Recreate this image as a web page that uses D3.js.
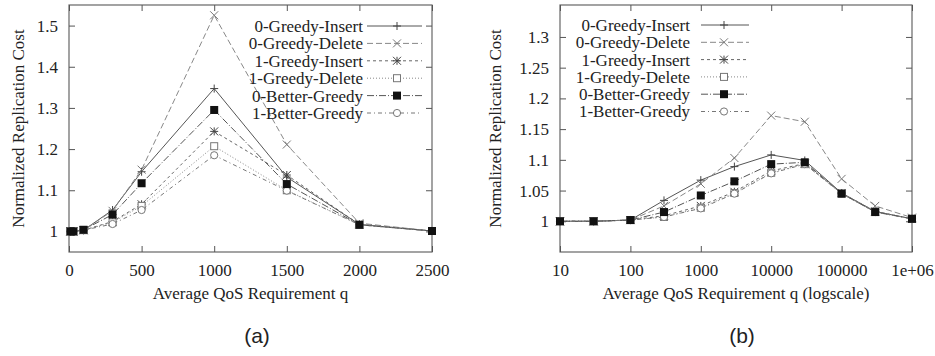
<!DOCTYPE html>
<html>
<head>
<meta charset="utf-8">
<script src="https://cdn.jsdelivr.net/npm/d3@7"></script>
<style>
  body { margin: 0; background: #fff; }
  svg { display: block; }
  text { font-family: "Liberation Serif", "Times New Roman", serif; fill: #222; }
  .panel-label { font-family: "Liberation Sans", Arial, sans-serif; }
</style>
</head>
<body>
<div id="chart"></div>
<script>
"use strict";
//series in legend order
var seriesNames = [
  "0-Greedy-Insert",
  "0-Greedy-Delete",
  "1-Greedy-Insert",
  "1-Greedy-Delete",
  "0-Better-Greedy",
  "1-Better-Greedy"
];

//panel (a): linear q
var qLinear = [10, 30, 100, 300, 500, 1000, 1500, 2000, 2500];
var costA = [
  [1.0, 1.0, 1.003, 1.052, 1.145, 1.347, 1.132, 1.017, 1.001],
  [1.0, 1.0, 1.003, 1.05, 1.15, 1.525, 1.211, 1.02, 1.001],
  [1.0, 1.0, 1.003, 1.024, 1.066, 1.243, 1.137, 1.017, 1.001],
  [1.0, 1.0, 1.003, 1.022, 1.062, 1.207, 1.1, 1.016, 1.001],
  [1.0, 1.0, 1.004, 1.041, 1.117, 1.295, 1.115, 1.016, 1.001],
  [1.0, 1.0, 1.003, 1.018, 1.052, 1.185, 1.099, 1.016, 1.001]
];
var xTicksA = [0, 500, 1000, 1500, 2000, 2500];
var yTicksA = [1, 1.1, 1.2, 1.3, 1.4, 1.5];

//panel (b): log q
var qLog = [10, 30, 100, 300, 1000, 3000, 10000, 30000, 100000, 300000, 1000000];
var costB = [
  [1.0, 1.0, 1.002, 1.034, 1.067, 1.089, 1.108, 1.099, 1.046, 1.016, 1.004],
  [1.0, 1.0, 1.002, 1.025, 1.061, 1.103, 1.172, 1.162, 1.069, 1.025, 1.006],
  [1.0, 1.0, 1.002, 1.009, 1.025, 1.048, 1.082, 1.094, 1.046, 1.016, 1.004],
  [1.0, 1.0, 1.002, 1.007, 1.022, 1.046, 1.079, 1.093, 1.045, 1.016, 1.004],
  [1.0, 1.0, 1.002, 1.015, 1.042, 1.065, 1.093, 1.096, 1.045, 1.015, 1.004],
  [1.0, 1.0, 1.002, 1.007, 1.021, 1.045, 1.078, 1.093, 1.045, 1.015, 1.004]
];
var xTicksB = [10, 100, 1000, 10000, 100000, 1000000];
var yTicksB = [1, 1.05, 1.1, 1.15, 1.2, 1.25, 1.3];

//gnuplot-like line styles
var dashes = ["none", "6,3", "3,3", "1,2", "7,2,1,2", "4,3,1,3"];
var strokes = ["#555", "#888", "#666", "#888", "#555", "#777"];
var symbols = ["plus", "cross", "star", "square", "fsquare", "circle"];
//filled squares end up on top in the original
var symbolOrder = [0, 1, 2, 3, 5, 4];

var w = 935,
  h = 356,
  fs = 17;

var svg = d3
  .select("#chart")
  .append("svg")
  .attr("width", w)
  .attr("height", h);

drawPanel({
  left: 69, right: 432, top: 5, bottom: 252,
  x: d3.scaleLinear().domain([0, 2500]),
  y: d3.scaleLinear().domain([0.95, 1.55]),
  xs: qLinear, data: costA,
  xTicks: xTicksA, yTicks: yTicksA,
  xFormat: function(d) { return String(d); },
  yFormat: function(d) { return String(+d.toFixed(2)); },
  xTitle: "Average QoS Requirement q",
  yTitleX: 18,
  legendX: 363, legendY: 26, legendStep: 17.4, sampleFrom: 4,
  label: "(a)", labelX: 257
});

drawPanel({
  left: 560, right: 912, top: 5, bottom: 252,
  x: d3.scaleLog().domain([10, 1000000]),
  y: d3.scaleLinear().domain([0.95, 1.352]),
  xs: qLog, data: costB,
  xTicks: xTicksB, yTicks: yTicksB,
  xFormat: function(d) { return d >= 1000000 ? "1e+06" : String(d); },
  yFormat: function(d) { return String(+d.toFixed(2)); },
  xTitle: "Average QoS Requirement q (logscale)",
  yTitleX: 495,
  legendX: 690, legendY: 25, legendStep: 17.3, sampleFrom: 11,
  label: "(b)", labelX: 742
});

function drawPanel(p) {
  var x = p.x.range([p.left, p.right]),
    y = p.y.range([p.bottom, p.top]);
  var g = svg.append("g");

  //frame
  g.append("rect")
    .attr("x", p.left)
    .attr("y", p.top)
    .attr("width", p.right - p.left)
    .attr("height", p.bottom - p.top)
    .attr("fill", "none")
    .attr("stroke", "#666")
    .attr("stroke-width", 1.2);

  //ticks point inward, mirrored on all four sides
  g.append("g")
    .attr("transform", "translate(0," + p.bottom + ")")
    .call(d3.axisBottom(x).tickValues(p.xTicks).tickFormat(p.xFormat)
      .tickSize(-6).tickPadding(12));
  g.append("g")
    .attr("transform", "translate(0," + p.top + ")")
    .call(d3.axisTop(x).tickValues(p.xTicks).tickFormat("").tickSize(-6));
  g.append("g")
    .attr("transform", "translate(" + p.left + ",0)")
    .call(d3.axisLeft(y).tickValues(p.yTicks).tickFormat(p.yFormat)
      .tickSize(-6).tickPadding(11));
  g.append("g")
    .attr("transform", "translate(" + p.right + ",0)")
    .call(d3.axisRight(y).tickValues(p.yTicks).tickFormat("").tickSize(-6));

  g.selectAll(".domain").remove();
  g.selectAll(".tick line").attr("stroke", "#555");
  g.selectAll(".tick text")
    .attr("font-family", "Liberation Serif, Times New Roman, serif")
    .attr("font-size", fs)
    .attr("fill", "#222");

  //axis titles
  g.append("text")
    .attr("x", (p.left + p.right) / 2)
    .attr("y", 299)
    .attr("text-anchor", "middle")
    .attr("font-size", fs)
    .text(p.xTitle);

  g.append("text")
    .attr("transform", "translate(" + (p.yTitleX + 6) + "," + (p.top + p.bottom) / 2 + ")rotate(-90)")
    .attr("text-anchor", "middle")
    .attr("font-size", fs)
    .text("Normalized Replication Cost");

  g.append("text")
    .attr("class", "panel-label")
    .attr("x", p.labelX)
    .attr("y", 343)
    .attr("text-anchor", "middle")
    .attr("font-size", 21)
    .text(p.label);

  //series lines and points
  var line = d3.line()
    .x(function(d, i) { return x(p.xs[i]); })
    .y(function(d) { return y(d); });

  p.data.forEach(function(vals, s) {
    g.append("path")
      .datum(vals)
      .attr("d", line)
      .attr("fill", "none")
      .attr("stroke", strokes[s])
      .attr("stroke-width", 1)
      .attr("stroke-dasharray", dashes[s]);
  });
  symbolOrder.forEach(function(s) {
    p.data[s].forEach(function(v, i) {
      drawSymbol(g, symbols[s], x(p.xs[i]), y(v));
    });
  });

  //legend, text right aligned with sample line after it
  seriesNames.forEach(function(name, s) {
    var cy = p.legendY + s * p.legendStep;
    g.append("text")
      .attr("x", p.legendX)
      .attr("y", cy)
      .attr("dy", "0.35em")
      .attr("text-anchor", "end")
      .attr("font-size", fs)
      .text(name);
    g.append("line")
      .attr("x1", p.legendX + p.sampleFrom)
      .attr("x2", p.legendX + 59)
      .attr("y1", cy)
      .attr("y2", cy)
      .attr("stroke", strokes[s])
      .attr("stroke-width", 1)
      .attr("stroke-dasharray", dashes[s]);
    drawSymbol(g, symbols[s], p.legendX + 34, cy);
  });
}

function drawSymbol(g, type, cx, cy) {
  var r = 4;
  var col = "#444";
  if (type === "plus" || type === "star") {
    g.append("path")
      .attr("d", "M" + (cx - r) + "," + cy + "H" + (cx + r) + "M" + cx + "," + (cy - r) + "V" + (cy + r))
      .attr("stroke", col).attr("stroke-width", 1);
  }
  if (type === "cross" || type === "star") {
    g.append("path")
      .attr("d", "M" + (cx - r) + "," + (cy - r) + "L" + (cx + r) + "," + (cy + r) +
        "M" + (cx - r) + "," + (cy + r) + "L" + (cx + r) + "," + (cy - r))
      .attr("stroke", type === "cross" ? "#777" : col).attr("stroke-width", 1);
  }
  if (type === "square") {
    g.append("rect")
      .attr("x", cx - 3.5).attr("y", cy - 3.5)
      .attr("width", 7).attr("height", 7)
      .attr("fill", "#fff").attr("stroke", "#777").attr("stroke-width", 1);
  }
  if (type === "fsquare") {
    g.append("rect")
      .attr("x", cx - 4).attr("y", cy - 4)
      .attr("width", 8).attr("height", 8)
      .attr("fill", "#111");
  }
  if (type === "circle") {
    g.append("circle")
      .attr("cx", cx).attr("cy", cy).attr("r", 3.6)
      .attr("fill", "#fff").attr("stroke", "#777").attr("stroke-width", 1);
  }
}
</script>
</body>
</html>
